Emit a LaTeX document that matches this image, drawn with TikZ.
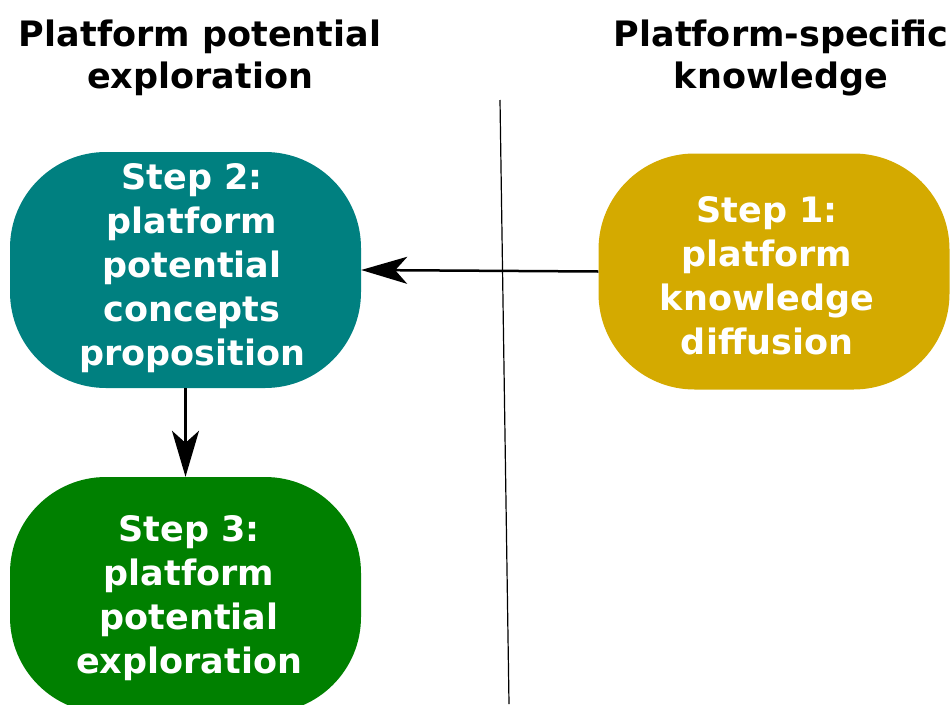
\documentclass[tikz,border=0pt]{standalone}
\usepackage{fontspec}
\setmainfont{DejaVu Sans}
\usetikzlibrary{arrows.meta}
\definecolor{tealbox}{HTML}{008080}
\definecolor{goldbox}{HTML}{D4AA00}
\definecolor{greenbox}{HTML}{008000}
\tikzset{
  stepbox/.style={draw=none, minimum width=351pt, minimum height=236pt, inner sep=0pt,
    rounded corners=96pt},
  steptext/.style={text=white, align=center, inner sep=0pt,
    font=\fontsize{35}{44}\selectfont\bfseries},
  heading/.style={align=center, font=\fontsize{35}{42}\selectfont\bfseries},
  arr/.style={line width=2.5pt, -{Stealth[length=46pt, width=27pt, inset=12pt]}},
  divider/.style={line width=1.2pt}
}
\begin{document}
\begin{tikzpicture}[x=1pt,y=-1pt]
\useasboundingbox (0,0) rectangle (952,704);
\node[heading] (h1) at (200,58) {Platform potential\\exploration};
\node[heading] (h2) at (781,58) {Platform-specific\\knowledge};
\coordinate (lt) at (500,100);
\coordinate (lb) at (509,704);
\draw[divider] (lt) -- (lb);
\node[stepbox, fill=tealbox] (s2) at (185.5,270) {};
\node[stepbox, fill=goldbox] (s1) at (774,271.5) {};
\node[stepbox, fill=greenbox] (s3) at (185.5,595) {};
\node[steptext] (t2) at (192,268) {Step 2:\\platform\\potential\\concepts\\proposition};
\node[steptext] (t1) at (767,276) {Step 1:\\platform\\knowledge\\diffusion};
\node[steptext] (t3) at (189,598) {Step 3:\\platform\\potential\\exploration};
\draw[arr] (s1.west) -- (s2.east);
\draw[arr] (s2.south) -- (s3.north);
\end{tikzpicture}
\end{document}
